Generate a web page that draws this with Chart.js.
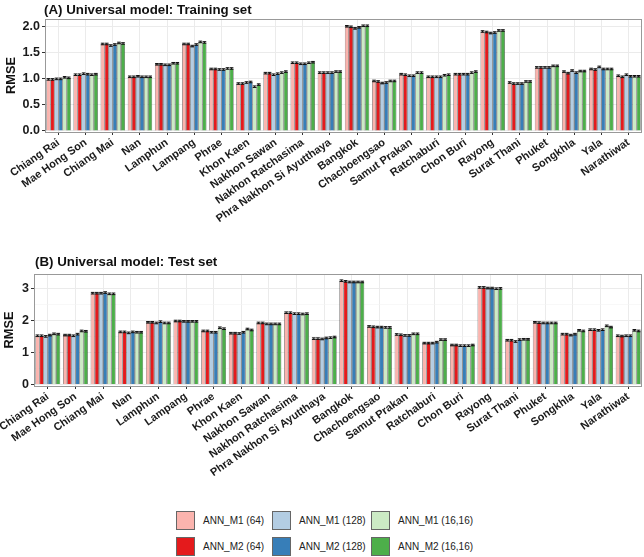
<!DOCTYPE html>
<html>
<head>
<meta charset="utf-8">
<script src="https://cdn.jsdelivr.net/npm/chart.js@4.4.1/dist/chart.umd.min.js"></script>
<style>
body { margin:0; background:#fff; width:644px; height:557px; position:relative; overflow:hidden; font-family:"Liberation Sans", Arial, sans-serif; }
#chartA { position:absolute; left:0; top:0; }
#chartB { position:absolute; left:0; top:250px; }
.legBox { position:absolute; width:17px; height:17px; border:1px solid #666; }
.legText { position:absolute; font-size:10px; color:#222; line-height:19px; white-space:nowrap; }
</style>
</head>
<body>
<canvas id="chartA" width="644" height="250"></canvas>
<canvas id="chartB" width="644" height="240"></canvas>
<div id="legend"></div>
<script>
let provinces = ['Chiang Rai','Mae Hong Son','Chiang Mai','Nan','Lamphun','Lampang','Phrae','Khon Kaen','Nakhon Sawan','Nakhon Ratchasima','Phra Nakhon Si Ayutthaya','Bangkok','Chachoengsao','Samut Prakan','Ratchaburi','Chon Buri','Rayong','Surat Thani','Phuket','Songkhla','Yala','Narathiwat'];

let seriesNames = ['ANN_M1 (64)','ANN_M2 (64)','ANN_M1 (128)','ANN_M2 (128)','ANN_M1 (16,16)','ANN_M2 (16,16)'];
let seriesColors = ['#FBB4AE','#E41A1C','#B3CDE3','#377EB8','#CCEBC5','#4DAF4A'];

// (A) training set RMSE
let trainM1_64  = [0.99,1.08,1.67,1.04,1.28,1.67,1.19,0.91,1.11,1.31,1.12,2.01,0.96,1.09,1.04,1.09,1.91,0.93,1.22,1.14,1.19,1.06];
let trainM2_64  = [0.99,1.08,1.67,1.04,1.28,1.67,1.19,0.91,1.11,1.31,1.12,2.00,0.95,1.08,1.04,1.09,1.90,0.91,1.22,1.11,1.18,1.04];
let trainM1_128 = [1.00,1.10,1.64,1.05,1.27,1.63,1.18,0.93,1.08,1.29,1.12,1.97,0.92,1.06,1.04,1.09,1.88,0.91,1.22,1.16,1.23,1.08];
let trainM2_128 = [1.00,1.09,1.66,1.04,1.27,1.66,1.18,0.94,1.10,1.29,1.12,1.99,0.93,1.06,1.04,1.09,1.89,0.91,1.22,1.12,1.19,1.05];
let trainM1_16  = [1.03,1.08,1.69,1.04,1.30,1.71,1.20,0.85,1.12,1.31,1.14,2.02,0.96,1.12,1.07,1.12,1.93,0.95,1.25,1.15,1.19,1.05];
let trainM2_16  = [1.02,1.09,1.68,1.04,1.30,1.70,1.20,0.89,1.14,1.32,1.14,2.02,0.96,1.12,1.08,1.14,1.93,0.95,1.25,1.15,1.19,1.05];

// (B) test set RMSE
let testM1_64  = [1.52,1.54,2.85,1.64,1.94,1.98,1.67,1.60,1.92,2.24,1.43,3.24,1.81,1.56,1.29,1.23,3.03,1.38,1.94,1.57,1.71,1.52];
let testM2_64  = [1.52,1.54,2.85,1.64,1.94,1.98,1.67,1.60,1.92,2.24,1.43,3.22,1.80,1.55,1.29,1.23,3.03,1.38,1.93,1.57,1.71,1.51];
let testM1_128 = [1.50,1.52,2.85,1.61,1.92,1.97,1.63,1.59,1.89,2.21,1.42,3.20,1.79,1.53,1.29,1.21,3.01,1.34,1.92,1.54,1.69,1.52];
let testM2_128 = [1.54,1.57,2.87,1.64,1.96,1.97,1.63,1.63,1.89,2.21,1.45,3.20,1.79,1.53,1.32,1.21,3.01,1.40,1.92,1.57,1.71,1.52];
let testM1_16  = [1.58,1.67,2.83,1.63,1.92,1.97,1.77,1.73,1.89,2.20,1.46,3.20,1.78,1.58,1.40,1.21,2.99,1.41,1.92,1.69,1.83,1.69];
let testM2_16  = [1.57,1.66,2.83,1.63,1.92,1.97,1.74,1.70,1.89,2.21,1.48,3.20,1.78,1.58,1.40,1.23,3.00,1.41,1.92,1.67,1.79,1.67];

let yMajorA = [0, 0.5, 1.0, 1.5, 2.0];
let yMinorA = [0.25, 0.75, 1.25, 1.75];
let yMajorB = [0, 1, 2, 3];
let yMinorB = [0.5, 1.5, 2.5];

// error bar half-widths (read as roughly constant in the picture)
let errA = 0.015;
let errB = 0.025;

const FONT = '"Liberation Sans", Arial, sans-serif';

const panelFrame = {
    id: 'panelFrame',
    afterDraw(chart, args, opts) {
        const ctx = chart.ctx, a = chart.chartArea;
        ctx.save();
        ctx.strokeStyle = '#999';
        ctx.lineWidth = 1;
        ctx.strokeRect(Math.round(a.left) + 0.5, Math.round(a.top) + 0.5, Math.round(a.right - a.left) - 1, Math.round(a.bottom - a.top));
        ctx.fillStyle = '#111';
        ctx.font = 'bold 13.3px ' + FONT;
        ctx.textBaseline = 'middle';
        ctx.fillText(opts.text, a.left + opts.dx, opts.y);
        ctx.restore();
    }
};

const errorBars = {
    id: 'errorBars',
    afterDatasetsDraw(chart, args, opts) {
        const ctx = chart.ctx, y = chart.scales.y;
        ctx.save();
        ctx.strokeStyle = '#111';
        ctx.lineWidth = 1;
        chart.data.datasets.forEach(function(ds, i) {
            chart.getDatasetMeta(i).data.forEach(function(bar, j) {
                let v = ds.data[j];
                let top = y.getPixelForValue(v + opts.err);
                let bot = y.getPixelForValue(v - opts.err);
                let w = bar.width * 0.45;
                ctx.beginPath();
                ctx.moveTo(bar.x, top); ctx.lineTo(bar.x, bot);
                ctx.moveTo(bar.x - w, top); ctx.lineTo(bar.x + w, top);
                ctx.moveTo(bar.x - w, bot); ctx.lineTo(bar.x + w, bot);
                ctx.stroke();
            });
        });
        ctx.restore();
    }
};

function makeChart(id, title, series, majors, minors, yMin, yMax, fmt, err, box) {
    let allTicks = majors.concat(minors).sort(function(a, b) { return a - b; });
    let isMajor = function(v) { return majors.indexOf(v) >= 0; };
    let datasets = series.map(function(d, i) {
        return {
            label: seriesNames[i],
            data: d,
            backgroundColor: seriesColors[i],
            borderColor: '#333',
            borderWidth: 0.6,
            categoryPercentage: 0.9,
            barPercentage: 1
        };
    });
    return new Chart(document.getElementById(id), {
        type: 'bar',
        data: { labels: provinces, datasets: datasets },
        options: {
            responsive: false,
            animation: false,
            layout: { padding: { top: box.top, right: 2, bottom: 0, left: 0 } },
            plugins: {
                legend: { display: false },
                tooltip: { enabled: false },
                panelFrame: { text: title, y: box.titleY, dx: box.titleDx },
                errorBars: { err: err }
            },
            scales: {
                x: {
                    afterFit: function(s) { s.height = box.xH; s.paddingLeft = 0; s.paddingRight = 0; },
                    ticks: { autoSkip: false, minRotation: 35, maxRotation: 35, padding: 1, color: '#1a1a1a',
                             font: { family: FONT, size: 11, weight: 'bold' } },
                    grid: { offset: false, color: '#EBEBEB', tickLength: 3, tickColor: '#333' },
                    border: { display: false }
                },
                y: {
                    min: yMin, max: yMax,
                    afterBuildTicks: function(s) { s.ticks = allTicks.map(function(v) { return { value: v }; }); },
                    afterFit: function(s) { s.width = box.yW; },
                    ticks: { padding: 2, color: '#1a1a1a', font: { family: FONT, size: 12.5, weight: 'bold' },
                             callback: function(v) { return isMajor(v) ? fmt(v) : ''; } },
                    grid: {
                        color: function(c) { return c.tick && isMajor(c.tick.value) ? '#EBEBEB' : '#F4F4F4'; },
                        lineWidth: function(c) { return c.tick && isMajor(c.tick.value) ? 1 : 0.6; },
                        tickLength: 3,
                        tickColor: function(c) { return c.tick && isMajor(c.tick.value) ? '#333' : 'rgba(0,0,0,0)'; }
                    },
                    border: { display: false },
                    title: { display: true, text: 'RMSE', color: '#111', padding: { top: box.rmsePad, bottom: 0 },
                             font: { family: FONT, size: 12.8, weight: 'bold' } }
                }
            }
        },
        plugins: [panelFrame, errorBars]
    });
}

makeChart('chartA', '(A) Universal model: Training set',
    [trainM1_64, trainM2_64, trainM1_128, trainM2_128, trainM1_16, trainM2_16],
    yMajorA, yMinorA, -0.02, 2.15, function(v) { return v.toFixed(1); }, errA,
    { top: 19, xH: 118, yW: 45, titleY: 10.5, titleDx: -1, rmsePad: 4 });

makeChart('chartB', '(B) Universal model: Test set',
    [testM1_64, testM2_64, testM1_128, testM2_128, testM1_16, testM2_16],
    yMajorB, yMinorB, -0.05, 3.45, function(v) { return String(v); }, errB,
    { top: 24, xH: 104, yW: 34, titleY: 12, titleDx: 1, rmsePad: 2 });

// legend: M1 on the first row, M2 on the second
let legCols = [176, 272, 371];
let legRows = [511, 537];
let html = '';
for (let i = 0; i < seriesNames.length; i++) {
    let col = Math.floor(i / 2), row = i % 2;
    let x = legCols[col], y = legRows[row];
    html += '<div class="legBox" style="left:' + x + 'px;top:' + y + 'px;background:' + seriesColors[i] + '"></div>';
    html += '<div class="legText" style="left:' + (x + 27) + 'px;top:' + y + 'px">' + seriesNames[i] + '</div>';
}
document.getElementById('legend').innerHTML = html;
</script>
</body>
</html>
